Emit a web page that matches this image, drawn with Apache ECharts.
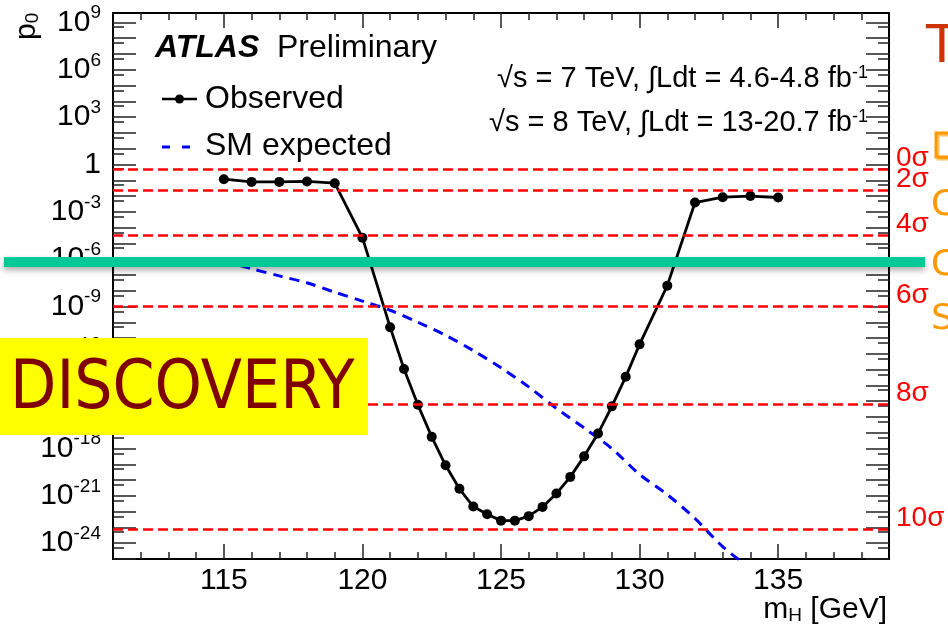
<!DOCTYPE html>
<html><head><meta charset="utf-8">
<script src="https://cdn.jsdelivr.net/npm/echarts@6/dist/echarts.min.js"></script>
<style>html,body{margin:0;padding:0;background:#fff}#c{width:948px;height:627px}</style>
</head><body><div id="c"></div>
<script>
// ---- data ----
const massObs = [115,116,117,118,119,120,121,121.5,122,122.5,123,123.5,124,124.5,125,125.5,126,126.5,127,127.5,128,128.5,129,129.5,130,131,132,133,134,135];
const p0Obs = [1.17e-1,7.9e-2,7.9e-2,8.4e-2,6.5e-2,2.3e-5,4.9e-11,1.1e-13,6.0e-16,5.5e-18,8.7e-20,2.8e-21,2.1e-22,6.8e-23,2.7e-23,2.7e-23,5.2e-23,2.0e-22,1.4e-21,1.6e-20,3.2e-19,8.9e-18,4.7e-16,3.5e-14,4.0e-12,2.1e-8,3.9e-3,8.5e-3,1.0e-2,8.1e-3];
const massExp = [115,116,117,118,119,120,121,122,123,124,125,126,127,128,129,130,131,132,133,134];
const p0Exp = [7.6e-7,2.5e-7,8.7e-8,3.2e-8,8.1e-9,2.2e-9,5.8e-10,1.0e-10,1.5e-11,1.6e-12,1.3e-13,8.1e-15,3.5e-16,2.0e-17,1.0e-18,2.3e-20,1.2e-21,3.7e-23,6.0e-25,2.5e-26];
const sigmaLevels = [0,2,4,6,8,10];
const sigmaP = [0.5,2.275e-2,3.167e-5,9.866e-10,6.221e-16,7.62e-24];
const xTickLabels = [115,120,125,130,135];
const yTickExps = [9,6,3,0,-3,-6,-9,-12,-15,-18,-21,-24];

const F = '"Liberation Sans", Arial, Helvetica, sans-serif';
const decades = []; for (let e = -25; e <= 9; e++) decades.push(e);
const fives = []; for (let e = -26; e <= 8; e++) { const v = e + Math.log10(5); if (v > -25 && v < 9.6) fives.push(v); }
const xMinor = []; for (let m = 112; m <= 138; m++) xMinor.push(m);
const xMajor = []; for (let m = 115; m <= 135; m += 5) xMajor.push(m);

const chart = echarts.init(document.getElementById('c'), null, {renderer: 'canvas'});
const tickStyle = {color: '#222', width: 1.5};
function yAx(pos, vals, len, labels) {
  return {
    type: 'value', position: pos, min: -25, max: 9.6,
    axisLine: {show: false, onZero: false}, splitLine: {show: false},
    axisTick: {show: true, inside: true, length: len, customValues: vals, lineStyle: tickStyle},
    axisLabel: labels ? {
      show: true, customValues: yTickExps, margin: 12, color: '#000', fontFamily: F,
      formatter: v => v === 0 ? '{b|1}' : '{b|10}{s|' + v + '}',
      rich: {b: {fontSize: 30, fontFamily: F, color: '#000', lineHeight: 38},
             s: {fontSize: 19, fontFamily: F, color: '#000', verticalAlign: 'top', lineHeight: 20}}
    } : {show: false}
  };
}
function xAx(pos, vals, len, labels) {
  return {
    type: 'value', position: pos, min: 111, max: 139,
    axisLine: {show: false, onZero: false}, splitLine: {show: false},
    axisTick: {show: true, inside: true, length: len, customValues: vals, lineStyle: tickStyle},
    axisLabel: labels ? {show: true, customValues: xTickLabels, margin: 7, fontSize: 30, fontFamily: F, color: '#000'} : {show: false}
  };
}

const option = {
  animation: false,
  backgroundColor: '#fff',
  grid: {left: 113, right: 59, top: 13, bottom: 68, show: true, borderColor: '#000', borderWidth: 2, backgroundColor: 'transparent'},
  xAxis: [xAx('bottom', xMajor, 15, true), xAx('bottom', xMinor, 7, false), xAx('top', xMajor, 15, false), xAx('top', xMinor, 7, false)],
  yAxis: [yAx('left', decades, 23, true), yAx('left', fives, 11, false), yAx('right', decades, 23, false), yAx('right', fives, 11, false)],
  series: [
    {
      type: 'line', data: [], z: 2, silent: true,
      markLine: {
        silent: true, symbol: ['none', 'none'], animation: false,
        lineStyle: {color: '#ff0000', type: [10, 5], width: 2.5},
        label: {show: true, position: 'end', distance: 7, color: '#ff0000', fontSize: 28, fontFamily: F, lineHeight: 22},
        data: sigmaLevels.map((s, i) => ({yAxis: Math.log10(sigmaP[i]), label: {formatter: s + 'σ\n '}}))
      }
    },
    {
      type: 'line', z: 3, silent: true, showSymbol: false, smooth: 0.3,
      data: massExp.map((m, i) => [m, Math.log10(p0Exp[i])]),
      lineStyle: {color: '#0000ff', width: 3, type: [10, 7]}
    },
    {
      type: 'line', z: 4, silent: true, symbol: 'circle', symbolSize: 10,
      data: massObs.map((m, i) => [m, Math.log10(p0Obs[i])]),
      lineStyle: {color: '#000', width: 2.8}, itemStyle: {color: '#000'}
    }
  ],
  graphic: {elements: [
    {type: 'text', z: 100, x: 155, y: 48, style: {text: 'ATLAS', font: 'italic bold 32px ' + F, fill: '#000', verticalAlign: 'middle'}},
    {type: 'text', z: 100, x: 277, y: 48, style: {text: 'Preliminary', font: '32px ' + F, fill: '#000', verticalAlign: 'middle'}},
    {type: 'line', z: 100, shape: {x1: 162, y1: 99, x2: 197, y2: 99}, style: {stroke: '#000', lineWidth: 2.5}},
    {type: 'circle', z: 100, shape: {cx: 179.5, cy: 99, r: 4.5}, style: {fill: '#000'}},
    {type: 'text', z: 100, x: 205, y: 99, style: {text: 'Observed', font: '32px ' + F, fill: '#000', verticalAlign: 'middle'}},
    {type: 'line', z: 100, shape: {x1: 162, y1: 147, x2: 190, y2: 147}, style: {stroke: '#0000ff', lineWidth: 3, lineDash: [8, 12]}},
    {type: 'text', z: 100, x: 205, y: 146, style: {text: 'SM expected', font: '32px ' + F, fill: '#000', verticalAlign: 'middle'}},
    {type: 'text', z: 100, x: 868, y: 79, style: {text: '√s = 7 TeV, ∫Ldt = 4.6-4.8 fb{s|-1}', font: '29px ' + F, fill: '#000', align: 'right', verticalAlign: 'middle',
      rich: {s: {fontSize: 18, fontFamily: F, verticalAlign: 'top', lineHeight: 18}}}},
    {type: 'text', z: 100, x: 868, y: 123, style: {text: '√s = 8 TeV, ∫Ldt = 13-20.7 fb{s|-1}', font: '29px ' + F, fill: '#000', align: 'right', verticalAlign: 'middle',
      rich: {s: {fontSize: 18, fontFamily: F, verticalAlign: 'top', lineHeight: 18}}}},
    {type: 'text', z: 100, x: 887, y: 610, style: {text: 'm{h|H} [GeV]', font: '30px ' + F, fill: '#000', align: 'right', verticalAlign: 'middle',
      rich: {h: {fontSize: 19, fontFamily: F, verticalAlign: 'bottom', lineHeight: 14}}}},
    {type: 'text', z: 100, x: 27, y: 40, rotation: Math.PI / 2, style: {text: 'p{s|0}', font: '30px ' + F, fill: '#000', align: 'left', verticalAlign: 'middle',
      rich: {s: {fontSize: 19, fontFamily: F, verticalAlign: 'bottom', lineHeight: 14}}}},
    // overlays from the slide
    {type: 'rect', z: 110, shape: {x: 4, y: 257, width: 921, height: 10}, style: {fill: '#00c896', shadowColor: 'rgba(0,0,0,0.35)', shadowBlur: 6, shadowOffsetY: 3}},
    {type: 'rect', z: 110, shape: {x: 0, y: 338, width: 368, height: 97}, style: {fill: '#ffff00'}},
    {type: 'text', z: 111, x: 10, y: 391, style: {text: 'DISCOVERY', font: '67px "DejaVu Sans Condensed", "DejaVu Sans", sans-serif', fill: '#7f0000', verticalAlign: 'middle'}},
    {type: 'text', z: 111, x: 926, y: 48, style: {text: 'T', font: '52px "DejaVu Sans", sans-serif', fill: '#cc3300', verticalAlign: 'middle'}},
    {type: 'rect', z: 111, shape: {x: 936, y: 133, width: 24, height: 24}, style: {fill: '#fff', stroke: '#ff9900', lineWidth: 3, shadowColor: 'rgba(255,153,0,0.6)', shadowOffsetX: 2, shadowOffsetY: 2}},
    {type: 'text', z: 111, x: 931, y: 206, style: {text: 'C', font: '36px "DejaVu Sans", sans-serif', fill: '#ff9900', verticalAlign: 'middle'}},
    {type: 'text', z: 111, x: 931, y: 266, style: {text: 'C', font: '36px "DejaVu Sans", sans-serif', fill: '#ff9900', verticalAlign: 'middle'}},
    {type: 'text', z: 111, x: 931, y: 320, style: {text: 'S', font: '36px "DejaVu Sans", sans-serif', fill: '#ff9900', verticalAlign: 'middle'}}
  ]}
};
chart.setOption(option);
</script>
</body></html>
